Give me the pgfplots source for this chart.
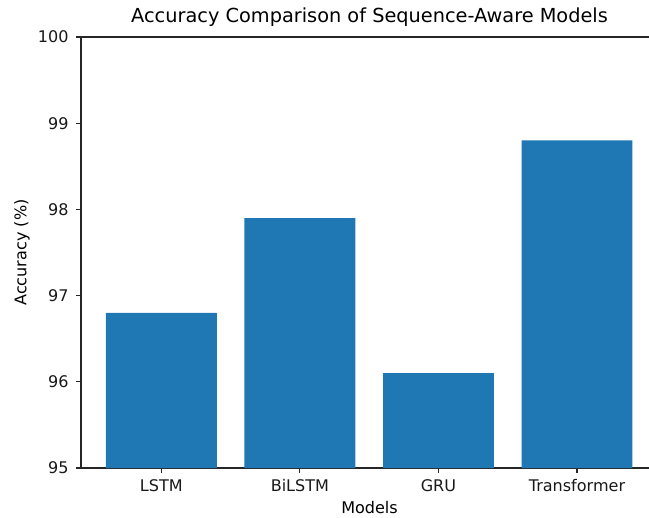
\documentclass[border=0pt]{standalone}
\usepackage{pgfplots}
\pgfplotsset{compat=1.18}
\usepackage{fontspec}
\setmainfont{DejaVu Sans}
\definecolor{mplblue}{HTML}{1F77B4}
\begin{document}
\begin{tikzpicture}
    %% axis box: 568 x 431 px, right spine cropped off as in the reference
    \begin{axis}[
        at={(0,0)}, anchor=south west,
        width=568bp, height=431bp, scale only axis,
        xmin=-0.58, xmax=3.52,
        ymin=95, ymax=100,
        axis x line=box, axis y line=left,
        axis line style={-, black!85, line width=1.1bp},
        xtick={0,1,2,3},
        xticklabels={LSTM,BiLSTM,GRU,Transformer},
        ytick={95,96,97,98,99,100},
        xtick pos=lower, ytick pos=left,
        tick align=outside,
        major tick length=4.9bp,
        tick style={black!85, line width=1.1bp},
        /pgf/number format/assume math mode=true,
        ticklabel style={font=\fontsize{16.1}{19}\selectfont, text=black!90},
        xticklabel style={yshift=-3bp},
        yticklabel style={xshift=-4bp},
        title={Accuracy Comparison of Sequence-Aware Models},
        title style={font=\fontsize{19.4}{23}\selectfont, at={(axis description cs:0.508,1)}, anchor=base, yshift=9bp},
        xlabel={Models},
        xlabel style={font=\fontsize{16.1}{19}\selectfont, at={(axis description cs:0.508,0)}, anchor=center, yshift=-40bp},
        ylabel={Accuracy (\%)},
        ylabel style={font=\fontsize{16.1}{19}\selectfont, at={(axis description cs:-0.104,0.5)}, anchor=center},
    ]
        %% data
        \addplot[ybar, bar width=0.8, fill=mplblue, draw=none]
            coordinates {
            (0,96.8)(1,97.9)(2,96.1)(3,98.8)
            };
    \end{axis}
    \pgfresetboundingbox
    \useasboundingbox (-81bp,-50bp) rectangle (568bp,468bp);
\end{tikzpicture}
\end{document}
